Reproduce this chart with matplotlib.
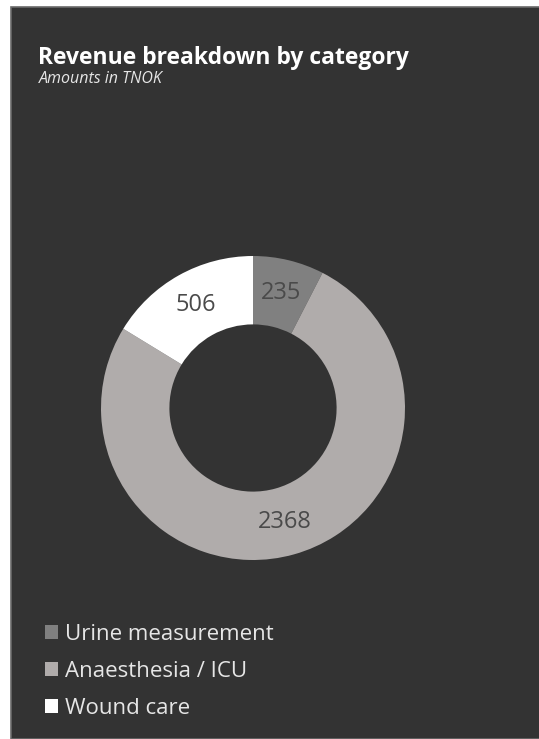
"""
Revenue breakdown by category - donut chart
"""

import matplotlib
matplotlib.use("Agg")
import matplotlib.pyplot as plt
from matplotlib.patches import Rectangle

plt.rcParams['font.family'] = ['Open Sans', 'DejaVu Sans']

# data
categories = ['Urine measurement', 'Anaesthesia / ICU', 'Wound care']
values = [235, 2368, 506]
colors = ['#808080', '#b0acab', '#ffffff']
total = sum(values)

W, H = 539, 739
fig = plt.figure(figsize=(W / 100, H / 100), dpi=100)
fig.patch.set_facecolor('white')

# dark panel with a thin grey border
fig.patches.append(Rectangle((11 / W, 0), 1 - 11 / W + 0.01, 1 - 7 / H,
                             transform=fig.transFigure, facecolor='#333333',
                             edgecolor='#6a6a6a', linewidth=1.2, zorder=-5))

# title
fig.text(38 / W, 1 - 64 / H, 'Revenue breakdown by category', color='white',
         fontsize=16.5, fontweight='bold', ha='left', va='baseline')
fig.text(39 / W, 1 - 83 / H, 'Amounts in TNOK', color='#e6e6e6',
         fontsize=11.5, fontstyle='italic', ha='left', va='baseline')

# donut
cx, cy, r = 253, 408, 152
ax = fig.add_axes([(cx - r) / W, (H - cy - r) / H, 2 * r / W, 2 * r / H])
ax.set_zorder(2)
wedges, _, autotexts = ax.pie(
    values, colors=colors, startangle=90, counterclock=False,
    wedgeprops=dict(width=0.45, linewidth=0),
    autopct=lambda p: f"{p * total / 100:.0f}", pctdistance=0.776,
    textprops=dict(color='#4a4a4a', fontsize=17),
)
ax.set_xlim(-1, 1)
ax.set_ylim(-1, 1)
ax.set_aspect('equal')
ax.axis('off')

# legend
leg = fig.legend(wedges, categories, loc='upper left',
                 bbox_to_anchor=(45 / W, 1 - 624 / H), frameon=False,
                 fontsize=16, handlelength=0.6, handleheight=0.6,
                 handletextpad=0.3, labelspacing=0.72, borderpad=0,
                 borderaxespad=0)
for t in leg.get_texts():
    t.set_color('#e6e6e6')

plt.savefig('out.png', dpi=100, facecolor=fig.get_facecolor())
